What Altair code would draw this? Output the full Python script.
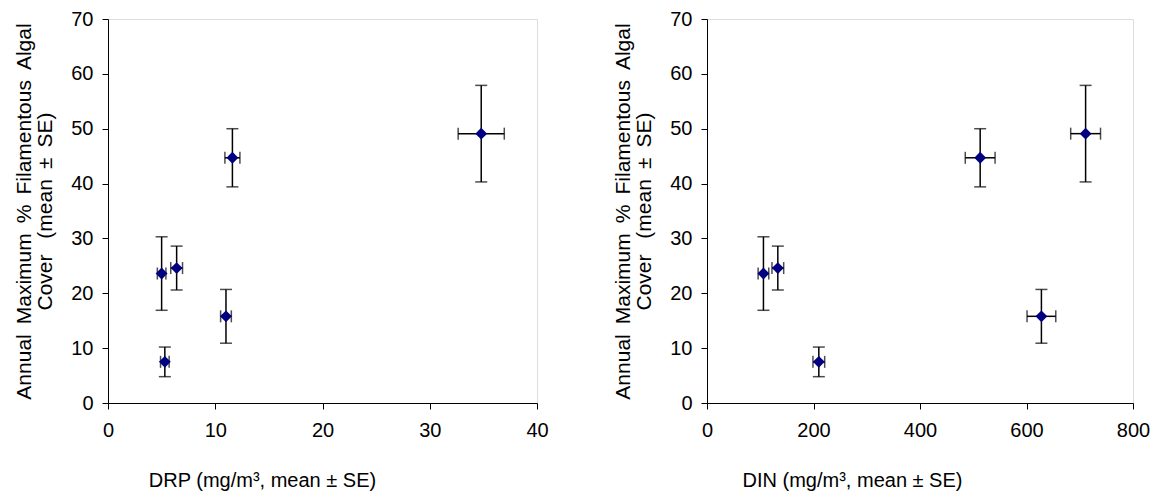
import altair as alt
import pandas as pd

# Site values (same order in both panels)
algal_mean = [23.6, 24.6, 7.5, 15.8, 44.7, 49.1]
algal_se = [6.7, 4.0, 2.7, 4.9, 5.3, 8.8]
drp_mean = [5.0, 6.4, 5.3, 11.0, 11.6, 34.8]
drp_se = [0.4, 0.55, 0.4, 0.5, 0.7, 2.15]
din_mean = [106, 133, 210, 628, 513, 711]
din_se = [10, 11, 11, 27, 28, 28]

drp_ticks = [0, 10, 20, 30, 40]
din_ticks = [0, 200, 400, 600, 800]
y_ticks = [0, 10, 20, 30, 40, 50, 60, 70]

SP = " \u2009"
y_title = [SP.join(["Annual", "Maximum", "%", "Filamentous", "Algal"]),
           "Cover\u00a0\u00a0\u2009(mean" + SP + "\u00b1" + SP + "SE)"]
FONT = "Liberation Sans"
FS = 20


def make_panel(xm, xs, xtitle, xticks, title_x, width):
    df = pd.DataFrame({
        "x": xm,
        "y": algal_mean,
        "xlo": [m - s for m, s in zip(xm, xs)],
        "xhi": [m + s for m, s in zip(xm, xs)],
        "ylo": [m - s for m, s in zip(algal_mean, algal_se)],
        "yhi": [m + s for m, s in zip(algal_mean, algal_se)],
    })
    xscale = alt.Scale(domain=[xticks[0], xticks[-1]], nice=False, zero=True)
    yscale = alt.Scale(domain=[0, 70], nice=False, zero=True)
    xaxis = alt.Axis(values=xticks, grid=False, title=xtitle, titleX=title_x, titleY=83,
                     titleBaseline="alphabetic", titleAlign="center",
                     labelFont=FONT, titleFont=FONT, labelFontSize=FS, titleFontSize=FS,
                     titleFontWeight="normal", labelPadding=11, tickSize=6,
                     domainColor="black", tickColor="black", labelColor="black",
                     titleColor="black", labelFlush=False, labelOverlap=False)
    yaxis = alt.Axis(values=y_ticks, grid=False, title=y_title, titlePadding=15,
                     titleLineHeight=21, labelFont=FONT, titleFont=FONT,
                     labelFontSize=FS, titleFontSize=21, titleFontWeight="normal",
                     labelPadding=9, tickSize=6, domainColor="black", tickColor="black",
                     labelColor="black", titleColor="black", labelFlush=False,
                     labelOverlap=False)

    def X(f):
        return alt.X(f, type="quantitative", scale=xscale, axis=xaxis)

    def Y(f):
        return alt.Y(f, type="quantitative", scale=yscale, axis=yaxis)

    base = alt.Chart(df)
    yerr = base.mark_rule(color="black", strokeWidth=1.5).encode(
        x=X("x"), y=Y("ylo"), y2="yhi")
    ycaps = base.transform_fold(["ylo", "yhi"], as_=["k", "yv"]).mark_tick(
        orient="horizontal", size=12, thickness=1.5, color="black").encode(
        x=X("x"), y=Y("yv"))
    xerr = base.mark_rule(color="black", strokeWidth=1.5).encode(
        y=Y("y"), x=X("xlo"), x2="xhi")
    xcaps = base.transform_fold(["xlo", "xhi"], as_=["k", "xv"]).mark_tick(
        orient="vertical", size=12, thickness=1.5, color="black").encode(
        x=X("xv"), y=Y("y"))
    pts = base.mark_point(shape="diamond", filled=True, color="#000080", size=140,
                          opacity=1).encode(x=X("x"), y=Y("y"))
    return alt.layer(yerr, ycaps, xerr, xcaps, pts).properties(width=width, height=384)


left = make_panel(drp_mean, drp_se, "DRP (mg/m\u00b3, mean \u00b1 SE)", drp_ticks, 154, 429)
right = make_panel(din_mean, din_se, "DIN (mg/m\u00b3, mean \u00b1 SE)", din_ticks, 145, 426)

chart = alt.hconcat(left, right, spacing=63).properties(
    padding={"left": 5, "top": 0, "right": 5, "bottom": 0}
).configure_view(stroke="#999999", strokeWidth=1).configure(background="white")

chart.save("out.html", embed_options={"renderer": "svg", "actions": False})
